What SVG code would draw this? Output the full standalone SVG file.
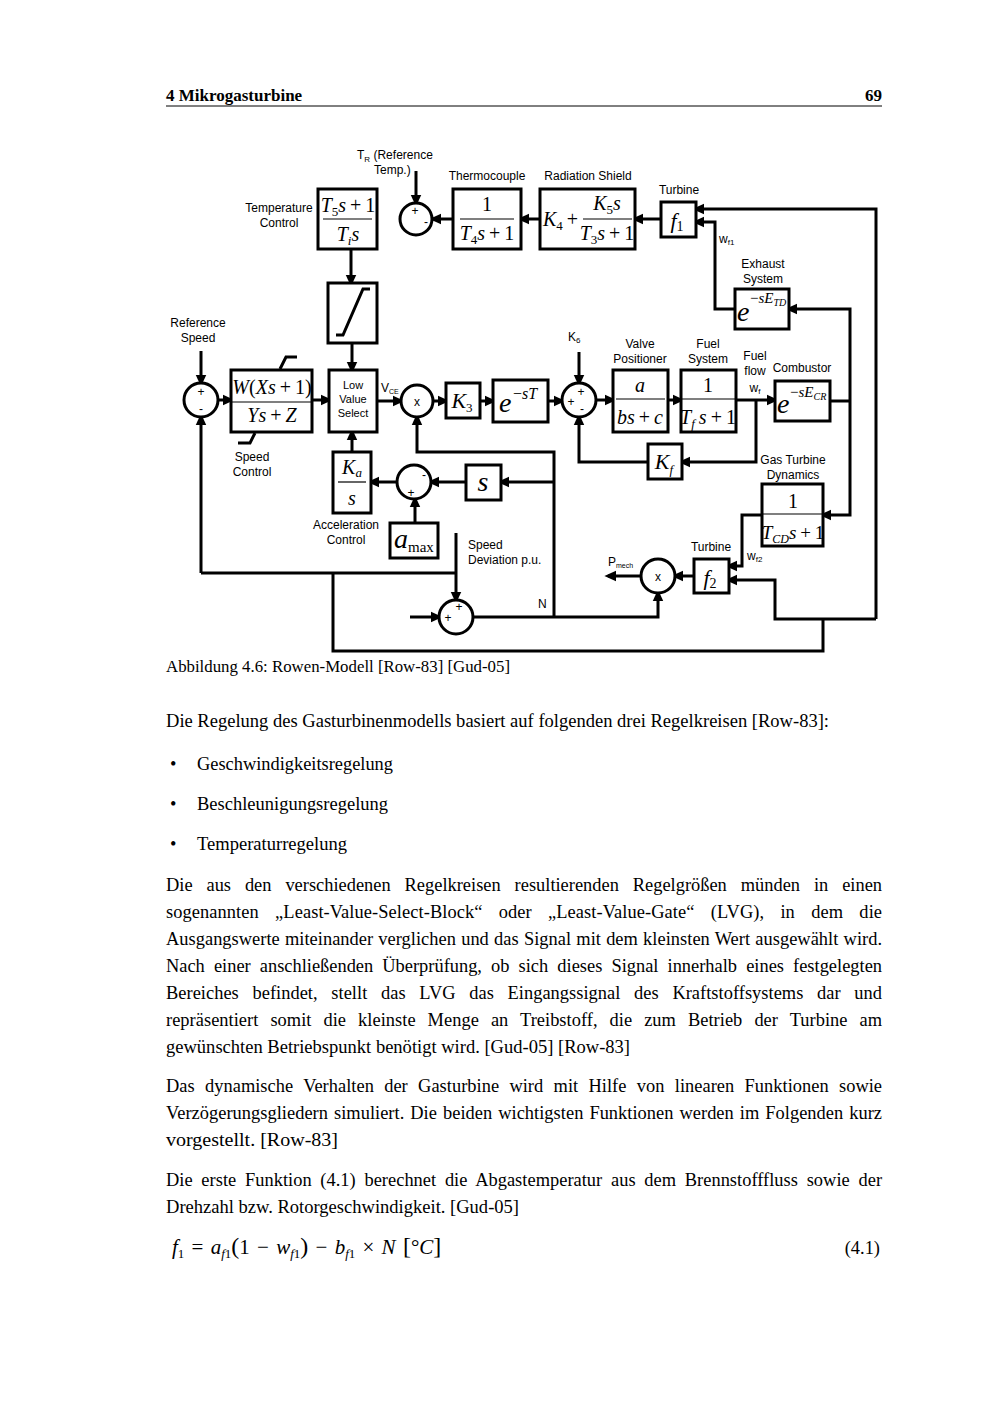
<svg xmlns="http://www.w3.org/2000/svg" width="1000" height="1415" viewBox="0 0 1000 1415">
<defs>
<marker id="ah" markerUnits="userSpaceOnUse" markerWidth="12" markerHeight="12" viewBox="0 0 10 10" refX="7" refY="5" orient="auto">
<path d="M0,0.5 L10,5 L0,9.5 z" fill="#000"/>
</marker>
<style>
.box{fill:#fff;stroke:#000;stroke-width:3}
.ln{fill:none;stroke:#000;stroke-width:3}
.a{marker-end:url(#ah)}
.fl{stroke:#000;stroke-width:1.2}
.lbl{font-family:"Liberation Sans",Arial,sans-serif;font-size:12px;fill:#000}
.sm{font-family:"Liberation Sans",Arial,sans-serif;font-size:12px;fill:#000}
.m{font-family:"Liberation Serif","Times New Roman",serif;font-size:20px;fill:#000}
.i{font-style:italic}
.body{font-family:"Liberation Serif","Times New Roman",serif;font-size:18.4px;fill:#000}
.hd{font-family:"Liberation Serif","Times New Roman",serif;font-size:17px;font-weight:bold;fill:#000}
</style>
</defs>
<rect width="1000" height="1415" fill="#fff"/>

<!-- header -->
<text class="hd" x="166" y="101">4 Mikrogasturbine</text>
<text class="hd" x="882" y="101" text-anchor="end">69</text>
<line x1="166" y1="106" x2="882" y2="106" stroke="#000" stroke-width="1"/>

<!-- connectors -->
<g id="connectors">
<path class="ln a" d="M416,171 L416,203"/>
<path class="ln a" d="M453,219 L433,219"/>
<path class="ln a" d="M540,219 L521,219"/>
<path class="ln a" d="M661,219 L635,219"/>
<path class="ln a" d="M876,619 L876,209 L696,209"/>
<path class="ln a" d="M876,619 L775,619 L775,580 L729,580"/>
<path class="ln" d="M823,619 L823,651 L333,651 L333,573"/>
<path class="ln" d="M201,573 L456,573"/>
<path class="ln a" d="M201,573 L201,417"/>
<path class="ln a" d="M456,533 L456,600"/>
<path class="ln a" d="M735,309 L715,309 L715,222 L696,222"/>
<path class="ln" d="M830,401 L850,401"/>
<path class="ln a" d="M850,401 L850,309 L789,309"/>
<path class="ln a" d="M850,401 L850,515 L823,515"/>
<path class="ln a" d="M736,400 L775,400"/>
<path class="ln a" d="M756,400 L756,462 L682,462"/>
<path class="ln a" d="M648,462 L579,462 L579,417"/>
<path class="ln a" d="M579,352 L579,383"/>
<path class="ln a" d="M596,400 L613,400"/>
<path class="ln a" d="M668,400 L681,400"/>
<path class="ln a" d="M548,401 L562,401"/>
<path class="ln a" d="M480,401 L493,401"/>
<path class="ln a" d="M433,401 L446,401"/>
<path class="ln a" d="M377,401 L401,401"/>
<path class="ln a" d="M312,400 L329,400"/>
<path class="ln a" d="M218,400 L231,400"/>
<path class="ln a" d="M201,351 L201,383"/>
<path class="ln a" d="M351,249 L351,283"/>
<path class="ln a" d="M352,343 L352,370"/>
<path class="ln a" d="M352,452 L352,432"/>
<path class="ln a" d="M397,482 L371,482"/>
<path class="ln a" d="M466,482 L431,482"/>
<path class="ln a" d="M415,523 L415,499"/>
<path class="ln a" d="M554,482 L501,482"/>
<path class="ln a" d="M473,617 L658,617 L658,593"/>
<path class="ln a" d="M554,617 L554,452 L417,452 L417,417"/>
<path class="ln a" d="M410,617 L439,617"/>
<path class="ln a" d="M762,515 L742,515 L742,566 L729,566"/>
<path class="ln a" d="M694,576 L675,576"/>
<path class="ln a" d="M641,576 L608,576"/>
</g>

<!-- nodes -->
<g id="temperature-control">
<rect class="box" x="318" y="189" width="59" height="60"/>
<line class="fl" x1="323" y1="219" x2="372" y2="219"/>
<text class="m" x="348" y="212" text-anchor="middle"><tspan class="i">T</tspan><tspan font-size="13" dy="4">5</tspan><tspan class="i" dy="-4">s</tspan>&#8201;+&#8201;1</text>
<text class="m" x="348" y="241" text-anchor="middle"><tspan class="i">T</tspan><tspan class="i" font-size="13" dy="4">i</tspan><tspan class="i" dy="-4">s</tspan></text>
<text class="lbl" x="279" y="212" text-anchor="middle">Temperature</text>
<text class="lbl" x="279" y="227" text-anchor="middle">Control</text>
</g>

<g id="sum-tr">
<circle class="box" cx="416" cy="219" r="16"/>
<text class="sm" x="415" y="215" text-anchor="middle">+</text>
<text class="sm" x="426" y="226" text-anchor="middle">-</text>
<text class="lbl" x="357" y="159">T<tspan font-size="8" dy="3">R</tspan><tspan dy="-3"> (Reference</tspan></text>
<text class="lbl" x="374" y="174">Temp.)</text>
</g>

<g id="thermocouple">
<rect class="box" x="453" y="189" width="68" height="60"/>
<line class="fl" x1="460" y1="219" x2="514" y2="219"/>
<text class="m" x="487" y="211" text-anchor="middle">1</text>
<text class="m" x="487" y="240" text-anchor="middle"><tspan class="i">T</tspan><tspan font-size="13" dy="4">4</tspan><tspan class="i" dy="-4">s</tspan>&#8201;+&#8201;1</text>
<text class="lbl" x="487" y="180" text-anchor="middle">Thermocouple</text>
</g>

<g id="radiation-shield">
<rect class="box" x="540" y="189" width="95" height="60"/>
<text class="m" x="543" y="226"><tspan class="i">K</tspan><tspan font-size="13" dy="4">4</tspan><tspan dy="-4">&#8201;+</tspan></text>
<line class="fl" x1="583" y1="219" x2="632" y2="219"/>
<text class="m" x="607" y="210" text-anchor="middle"><tspan class="i">K</tspan><tspan font-size="13" dy="4">5</tspan><tspan class="i" dy="-4">s</tspan></text>
<text class="m" x="607" y="240" text-anchor="middle"><tspan class="i">T</tspan><tspan font-size="13" dy="4">3</tspan><tspan class="i" dy="-4">s</tspan>&#8201;+&#8201;1</text>
<text class="lbl" x="588" y="180" text-anchor="middle">Radiation Shield</text>
</g>

<g id="turbine-f1">
<rect class="box" x="661" y="202" width="35" height="35"/>
<text class="m" x="677" y="228" text-anchor="middle" style="font-size:22px"><tspan class="i">f</tspan><tspan font-size="14" dy="3">1</tspan></text>
<text class="lbl" x="679" y="194" text-anchor="middle">Turbine</text>
<text class="lbl" x="719" y="243">w<tspan font-size="8" dy="2">f1</tspan></text>
</g>

<g id="exhaust-system">
<rect class="box" x="735" y="289" width="54" height="40"/>
<text class="m" x="737" y="321" style="font-size:28px"><tspan class="i">e</tspan></text>
<text class="m" x="750" y="303" style="font-size:15px"><tspan>−</tspan><tspan class="i">sE</tspan><tspan class="i" font-size="10" dy="3">TD</tspan></text>
<text class="lbl" x="763" y="268" text-anchor="middle">Exhaust</text>
<text class="lbl" x="763" y="283" text-anchor="middle">System</text>
</g>

<g id="combustor">
<rect class="box" x="775" y="381" width="55" height="40"/>
<text class="m" x="777" y="413" style="font-size:28px"><tspan class="i">e</tspan></text>
<text class="m" x="790" y="397" style="font-size:15px"><tspan>−</tspan><tspan class="i">sE</tspan><tspan class="i" font-size="10" dy="3">CR</tspan></text>
<text class="lbl" x="802" y="372" text-anchor="middle">Combustor</text>
<text class="lbl" x="755" y="360" text-anchor="middle">Fuel</text>
<text class="lbl" x="755" y="375" text-anchor="middle">flow</text>
<text class="lbl" x="755" y="392" text-anchor="middle">w<tspan font-size="8" dy="2">f</tspan></text>
</g>

<g id="saturation">
<rect class="box" x="328" y="283" width="49" height="60"/>
<path class="ln" d="M336,335 L343,335 L363,289 L370,289" stroke-width="2.5"/>
</g>

<g id="low-value-select">
<rect class="box" x="329" y="370" width="48" height="62"/>
<text class="lbl" x="353" y="389" text-anchor="middle" style="font-size:11px">Low</text>
<text class="lbl" x="353" y="403" text-anchor="middle" style="font-size:11px">Value</text>
<text class="lbl" x="353" y="417" text-anchor="middle" style="font-size:11px">Select</text>
<text class="lbl" x="381" y="392">V<tspan font-size="7" dy="2">CE</tspan></text>
</g>

<g id="sum-ref-speed">
<circle class="box" cx="201" cy="400" r="17"/>
<text class="sm" x="201" y="396" text-anchor="middle">+</text>
<text class="sm" x="201" y="413" text-anchor="middle">-</text>
<text class="lbl" x="198" y="327" text-anchor="middle">Reference</text>
<text class="lbl" x="198" y="342" text-anchor="middle">Speed</text>
</g>

<g id="speed-control">
<rect class="box" x="231" y="370" width="81" height="62"/>
<line class="fl" x1="231" y1="402" x2="312" y2="402"/>
<text class="m" x="272" y="394" text-anchor="middle"><tspan class="i">W</tspan>(<tspan class="i">Xs</tspan>&#8201;+&#8201;1)</text>
<text class="m" x="272" y="422" text-anchor="middle"><tspan class="i">Ys</tspan>&#8201;+&#8201;<tspan class="i">Z</tspan></text>
<path class="ln" d="M280,369 L286,357 L297,357" stroke-width="2.5"/>
<path class="ln" d="M255,433 L250,443 L238,443" stroke-width="2.5"/>
<text class="lbl" x="252" y="461" text-anchor="middle">Speed</text>
<text class="lbl" x="252" y="476" text-anchor="middle">Control</text>
</g>

<g id="multiplier-1">
<circle class="box" cx="417" cy="401" r="16"/>
<text class="sm" x="417" y="406" text-anchor="middle">x</text>
</g>

<g id="k3">
<rect class="box" x="446" y="383" width="34" height="35"/>
<text class="m" x="462" y="408" text-anchor="middle" style="font-size:22px"><tspan class="i">K</tspan><tspan font-size="13" dy="4">3</tspan></text>
</g>

<g id="delay-t">
<rect class="box" x="493" y="380" width="55" height="42"/>
<text class="m" x="499" y="412" style="font-size:28px"><tspan class="i">e</tspan></text>
<text class="m" x="513" y="399" style="font-size:16px"><tspan>−</tspan><tspan class="i">sT</tspan></text>
</g>

<g id="sum-k6">
<circle class="box" cx="579" cy="400" r="17"/>
<text class="sm" x="581" y="396" text-anchor="middle">+</text>
<text class="sm" x="571" y="406" text-anchor="middle">+</text>
<text class="sm" x="582" y="413" text-anchor="middle">-</text>
<text class="lbl" x="568" y="341">K<tspan font-size="8" dy="2">6</tspan></text>
</g>

<g id="valve-positioner">
<rect class="box" x="613" y="370" width="55" height="62"/>
<line class="fl" x1="616" y1="399" x2="665" y2="399"/>
<text class="m" x="640" y="392" text-anchor="middle"><tspan class="i">a</tspan></text>
<text class="m" x="640" y="424" text-anchor="middle"><tspan class="i">bs</tspan>&#8201;+&#8201;<tspan class="i">c</tspan></text>
<text class="lbl" x="640" y="348" text-anchor="middle">Valve</text>
<text class="lbl" x="640" y="363" text-anchor="middle">Positioner</text>
</g>

<g id="fuel-system">
<rect class="box" x="681" y="370" width="55" height="62"/>
<line class="fl" x1="681" y1="399" x2="736" y2="399"/>
<text class="m" x="708" y="392" text-anchor="middle">1</text>
<text class="m" x="708" y="424" text-anchor="middle"><tspan class="i">T</tspan><tspan class="i" font-size="13" dy="4">f</tspan><tspan class="i" dy="-4">&#8201;s</tspan>&#8201;+&#8201;1</text>
<text class="lbl" x="708" y="348" text-anchor="middle">Fuel</text>
<text class="lbl" x="708" y="363" text-anchor="middle">System</text>
</g>

<g id="kf">
<rect class="box" x="648" y="444" width="34" height="35"/>
<text class="m" x="664" y="469" text-anchor="middle" style="font-size:22px"><tspan class="i">K</tspan><tspan class="i" font-size="13" dy="5">f</tspan></text>
</g>

<g id="gas-turbine-dynamics">
<rect class="box" x="762" y="484" width="61" height="62"/>
<line class="fl" x1="762" y1="514" x2="823" y2="514"/>
<text class="m" x="793" y="508" text-anchor="middle">1</text>
<text class="m" x="793" y="539" text-anchor="middle" style="font-size:19px"><tspan class="i">T</tspan><tspan class="i" font-size="12" dy="4">CD</tspan><tspan class="i" dy="-4">s</tspan>&#8201;+&#8201;1</text>
<text class="lbl" x="793" y="464" text-anchor="middle">Gas Turbine</text>
<text class="lbl" x="793" y="479" text-anchor="middle">Dynamics</text>
</g>

<g id="turbine-f2">
<rect class="box" x="694" y="559" width="35" height="34"/>
<text class="m" x="710" y="585" text-anchor="middle" style="font-size:22px"><tspan class="i">f</tspan><tspan font-size="14" dy="3">2</tspan></text>
<text class="lbl" x="711" y="551" text-anchor="middle">Turbine</text>
<text class="lbl" x="747" y="560">w<tspan font-size="8" dy="2">f2</tspan></text>
</g>

<g id="multiplier-2">
<circle class="box" cx="658" cy="576" r="17"/>
<text class="sm" x="658" y="581" text-anchor="middle">x</text>
<text class="lbl" x="608" y="566">P<tspan font-size="7" dy="2">mech</tspan></text>
</g>

<g id="ka-s">
<rect class="box" x="333" y="452" width="38" height="61"/>
<line class="fl" x1="338" y1="482" x2="366" y2="482"/>
<text class="m" x="352" y="474" text-anchor="middle"><tspan class="i">K</tspan><tspan class="i" font-size="13" dy="3">a</tspan></text>
<text class="m" x="352" y="505" text-anchor="middle"><tspan class="i">s</tspan></text>
<text class="lbl" x="346" y="529" text-anchor="middle">Acceleration</text>
<text class="lbl" x="346" y="544" text-anchor="middle">Control</text>
</g>

<g id="sum-acc">
<circle class="box" cx="414" cy="482" r="17"/>
<text class="sm" x="424" y="479" text-anchor="middle">-</text>
<text class="sm" x="411" y="497" text-anchor="middle">+</text>
</g>

<g id="derivative-s">
<rect class="box" x="466" y="465" width="35" height="35"/>
<text class="m" x="483" y="491" text-anchor="middle" style="font-size:28px"><tspan class="i">s</tspan></text>
</g>

<g id="a-max">
<rect class="box" x="390" y="523" width="48" height="35"/>
<text class="m" x="394" y="548" style="font-size:28px"><tspan class="i">a</tspan><tspan font-size="15" dy="4">max</tspan></text>
</g>

<g id="sum-speed">
<circle class="box" cx="456" cy="617" r="17"/>
<text class="sm" x="459" y="611" text-anchor="middle">+</text>
<text class="sm" x="448" y="622" text-anchor="middle">+</text>
<text class="lbl" x="468" y="549">Speed</text>
<text class="lbl" x="468" y="564">Deviation p.u.</text>
<text class="lbl" x="538" y="608">N</text>
</g>

<!-- caption and body text -->
<text class="body" x="166" y="672" style="font-size:16.8px" textLength="344" lengthAdjust="spacingAndGlyphs">Abbildung 4.6: Rowen-Modell [Row-83] [Gud-05]</text>
<text class="body" x="166" y="727" textLength="663" lengthAdjust="spacingAndGlyphs">Die Regelung des Gasturbinenmodells basiert auf folgenden drei Regelkreisen [Row-83]:</text>
<text class="body" x="170" y="770">•</text>
<text class="body" x="197" y="770" textLength="196" lengthAdjust="spacingAndGlyphs">Geschwindigkeitsregelung</text>
<text class="body" x="170" y="810">•</text>
<text class="body" x="197" y="810" textLength="191" lengthAdjust="spacingAndGlyphs">Beschleunigungsregelung</text>
<text class="body" x="170" y="850">•</text>
<text class="body" x="197" y="850" textLength="150" lengthAdjust="spacingAndGlyphs">Temperaturregelung</text>

<text class="body" x="166" y="891" word-spacing="9.3" textLength="716" lengthAdjust="spacing">Die aus den verschiedenen Regelkreisen resultierenden Regelgrößen münden in einen</text>
<text class="body" x="166" y="918" word-spacing="11.6" textLength="716" lengthAdjust="spacing">sogenannten „Least-Value-Select-Block“ oder „Least-Value-Gate“ (LVG), in dem die</text>
<text class="body" x="166" y="945" word-spacing="0.6" textLength="716" lengthAdjust="spacing">Ausgangswerte miteinander verglichen und das Signal mit dem kleinsten Wert ausgewählt wird.</text>
<text class="body" x="166" y="972" word-spacing="4.5" textLength="716" lengthAdjust="spacing">Nach einer anschließenden Überprüfung, ob sich dieses Signal innerhalb eines festgelegten</text>
<text class="body" x="166" y="999" word-spacing="9.1" textLength="716" lengthAdjust="spacing">Bereiches befindet, stellt das LVG das Eingangssignal des Kraftstoffsystems dar und</text>
<text class="body" x="166" y="1026" word-spacing="7.4" textLength="716" lengthAdjust="spacing">repräsentiert somit die kleinste Menge an Treibstoff, die zum Betrieb der Turbine am</text>
<text class="body" x="166" y="1053" textLength="464" lengthAdjust="spacingAndGlyphs">gewünschten Betriebspunkt benötigt wird. [Gud-05] [Row-83]</text>

<text class="body" x="166" y="1092" word-spacing="5.7" textLength="716" lengthAdjust="spacing">Das dynamische Verhalten der Gasturbine wird mit Hilfe von linearen Funktionen sowie</text>
<text class="body" x="166" y="1119" word-spacing="1.4" textLength="716" lengthAdjust="spacing">Verzögerungsgliedern simuliert. Die beiden wichtigsten Funktionen werden im Folgenden kurz</text>
<text class="body" x="166" y="1146" textLength="172" lengthAdjust="spacingAndGlyphs">vorgestellt. [Row-83]</text>

<text class="body" x="166" y="1186" word-spacing="4.1" textLength="716" lengthAdjust="spacing">Die erste Funktion (4.1) berechnet die Abgastemperatur aus dem Brennstofffluss sowie der</text>
<text class="body" x="166" y="1213" textLength="353" lengthAdjust="spacingAndGlyphs">Drehzahl bzw. Rotorgeschwindigkeit. [Gud-05]</text>

<text class="body" x="172" y="1254" style="font-size:21px" word-spacing="2"><tspan class="i">f</tspan><tspan font-size="13" dy="4">1</tspan><tspan dy="-4"> = </tspan><tspan class="i">a</tspan><tspan class="i" font-size="13" dy="4">f</tspan><tspan font-size="13">1</tspan><tspan dy="-4" font-size="24">(</tspan><tspan>1 − </tspan><tspan class="i">w</tspan><tspan class="i" font-size="13" dy="4">f</tspan><tspan font-size="13">1</tspan><tspan dy="-4" font-size="24">)</tspan><tspan> − </tspan><tspan class="i">b</tspan><tspan class="i" font-size="13" dy="4">f</tspan><tspan font-size="13">1</tspan><tspan dy="-4"> × </tspan><tspan class="i">N</tspan><tspan>   </tspan><tspan font-size="24">[</tspan><tspan>°</tspan><tspan class="i">C</tspan><tspan font-size="24">]</tspan></text>
<text class="body" x="880" y="1254" text-anchor="end">(4.1)</text>
</svg>
